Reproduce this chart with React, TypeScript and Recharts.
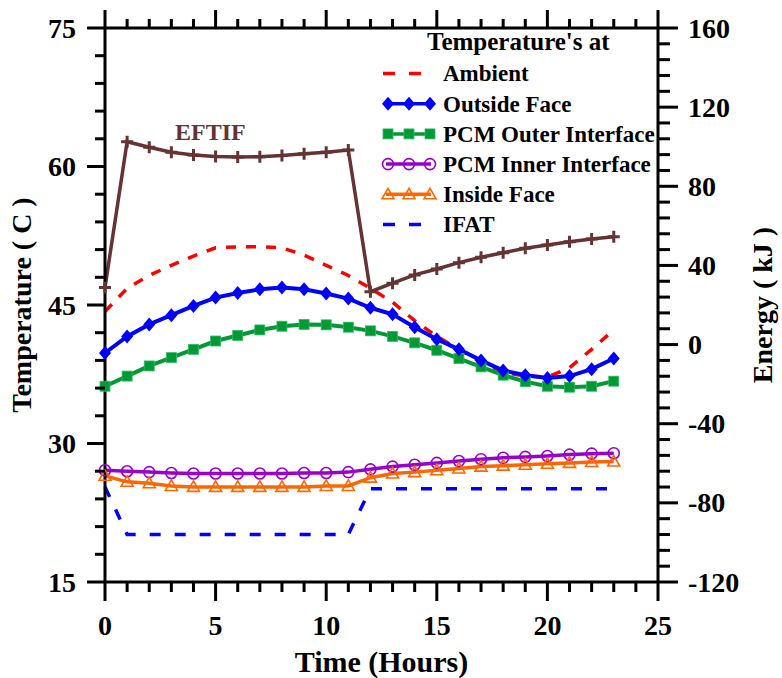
import { ComposedChart, Line, XAxis, YAxis } from 'recharts'

const FONT = "'Liberation Serif', 'Times New Roman', serif"

// hourly readings
const hours = [0, 1, 2, 3, 4, 5, 6, 7, 8, 9, 10, 11, 12, 13, 14, 15, 16, 17, 18, 19, 20, 21, 22, 23]
const ambient = [44.3, 46.8, 48.2, 49.3, 50.3, 51.2, 51.3, 51.3, 51.2, 50.4, 49.3, 48.2, 46.8, 45.3, 43.3, 41.6, 40.2, 38.8, 37.7, 37.3, 37.2, 38.2, 40.2, 42.3]
const outsideFace = [39.8, 41.6, 42.9, 43.9, 44.9, 45.8, 46.3, 46.7, 46.9, 46.7, 46.25, 45.7, 44.7, 44.0, 42.6, 41.3, 40.2, 39.0, 37.9, 37.4, 37.1, 37.3, 38.05, 39.2]
const pcmOuter = [36.2, 37.3, 38.4, 39.3, 40.2, 41.1, 41.7, 42.3, 42.7, 42.9, 42.85, 42.6, 42.2, 41.6, 40.9, 40.1, 39.2, 38.3, 37.4, 36.7, 36.2, 36.1, 36.2, 36.75]
const pcmInner = [27.1, 27.0, 26.9, 26.8, 26.75, 26.75, 26.75, 26.75, 26.75, 26.8, 26.8, 26.9, 27.2, 27.5, 27.7, 27.9, 28.1, 28.3, 28.45, 28.55, 28.65, 28.8, 28.9, 28.95]
const insideFace = [26.5, 25.85, 25.7, 25.4, 25.3, 25.3, 25.3, 25.3, 25.3, 25.3, 25.4, 25.4, 26.3, 26.75, 26.9, 27.1, 27.3, 27.5, 27.6, 27.7, 27.8, 27.9, 28.0, 28.05]
const ifat = [25.3, 20.15, 20.15, 20.15, 20.15, 20.15, 20.15, 20.15, 20.15, 20.15, 20.15, 20.15, 25.1, 25.1, 25.1, 25.1, 25.1, 25.1, 25.1, 25.1, 25.1, 25.1, 25.1, 25.1]
const eftif = [28.9, 102.5, 99.7, 97.2, 95.8, 95.1, 94.8, 94.9, 95.5, 96.5, 97.2, 98.3, 26.7, 31.0, 35.2, 38.2, 41.4, 44.1, 46.4, 48.7, 50.3, 52.0, 53.4, 54.5]

const timeTicks = Array.from({ length: 26 }, (_, i) => i)
const tempTicks = Array.from({ length: 21 }, (_, i) => 15 + i * 3)
const energyTicks = Array.from({ length: 36 }, (_, i) => -120 + i * 8)

const legendItems = [
  { name: 'Ambient', color: '#ff0000', kind: 'dash' },
  { name: 'Outside Face', color: '#0000ff', kind: 'diamond' },
  { name: 'PCM Outer Interface', color: '#009933', kind: 'square' },
  { name: 'PCM Inner Interface', color: '#9900cc', kind: 'circle' },
  { name: 'Inside Face', color: '#ff6600', kind: 'triangle' },
  { name: 'IFAT', color: '#0000ff', kind: 'dash' },
]

const data = hours.map((h, i) => ({
  hour: h,
  ambient: ambient[i],
  outside: outsideFace[i],
  pcmOuter: pcmOuter[i],
  pcmInner: pcmInner[i],
  inside: insideFace[i],
  ifat: ifat[i],
  eftif: eftif[i],
}))

function marker(kind: string, color: string, cx: number, cy: number, key?: string) {
  if (kind === 'diamond')
    return <path key={key} d={`M${cx},${cy - 7}L${cx + 6},${cy}L${cx},${cy + 7}L${cx - 6},${cy}Z`} fill={color} />
  if (kind === 'square')
    return <rect key={key} x={cx - 5} y={cy - 5} width={10} height={10} fill={color} stroke="#33bb66" strokeWidth={0.8} />
  if (kind === 'circle')
    return <circle key={key} cx={cx} cy={cy} r={5.5} fill="none" stroke={color} strokeWidth={1.6} />
  if (kind === 'triangle')
    return <path key={key} d={`M${cx},${cy - 6}L${cx + 6},${cy + 4.5}L${cx - 6},${cy + 4.5}Z`} fill="none" stroke={color} strokeWidth={1.6} />
  if (kind === 'plus')
    return (
      <path key={key} d={`M${cx - 6},${cy}H${cx + 6}M${cx},${cy - 6}V${cy + 6}`} stroke={color} strokeWidth={3} fill="none" />
    )
  return <g key={key} />
}

const dotOf = (kind: string, color: string) => (p: any) =>
  marker(kind, color, p.cx, p.cy, `${kind}-${p.index}`)

// tick marks as thin filled bars, labels on the long ones
function LeftTick(props: any) {
  const { x, y, payload } = props
  const major = payload.value % 15 === 0
  const len = major ? 18 : 10
  return (
    <g>
      <rect x={x - len} y={y - 1.5} width={len} height={3} fill="#000" />
      <text x={x - 29} y={y} dy="0.34em" textAnchor="end" fontFamily={FONT} fontWeight={700} fontSize={28} fill="#000">
        {major ? payload.value : ''}
      </text>
    </g>
  )
}

function RightTick(props: any) {
  const { x, y, payload } = props
  const major = (payload.value + 120) % 40 === 0
  const len = major ? 20 : 12
  return (
    <g>
      <rect x={x} y={y - 1.5} width={len} height={3} fill="#000" />
      <text x={x + 30} y={y} dy="0.34em" textAnchor="start" fontFamily={FONT} fontWeight={700} fontSize={28} fill="#000">
        {major ? payload.value : ''}
      </text>
    </g>
  )
}

function BottomTick(props: any) {
  const { x, y, payload } = props
  const major = payload.value % 5 === 0
  const len = major ? 19 : 10
  return (
    <g>
      <rect x={x - 1.5} y={y} width={3} height={len} fill="#000" />
      <text x={x} y={y + 53} textAnchor="middle" fontFamily={FONT} fontWeight={700} fontSize={28} fill="#000">
        {major ? payload.value : ''}
      </text>
    </g>
  )
}

function TopTick(props: any) {
  const { x, y, payload } = props
  const len = payload.value % 5 === 0 ? 18 : 9
  return (
    <g>
      <rect x={x - 1.5} y={y - len} width={3} height={len} fill="#000" />
      <text x={x} y={y - 2} fontSize={1} fill="#fff">{' '}</text>
    </g>
  )
}

function Annotations() {
  return (
    <g fontFamily={FONT} fontWeight={700} fill="#000">
      <text x={381.5} y={672} textAnchor="middle" fontSize={30}>Time (Hours)</text>
      <text transform="translate(31,305) rotate(-90)" textAnchor="middle" fontSize={28}>Temperature ( C )</text>
      <text transform="translate(772,305) rotate(-90)" textAnchor="middle" fontSize={28}>Energy ( kJ )</text>
      <text x={175} y={140} fontSize={24} fill="#663333">EFTIF</text>
      <text x={427} y={50} fontSize={25}>Temperature's at</text>
      {legendItems.map((it, i) => {
        const cy = 73.5 + i * 30.2
        return (
          <g key={it.name}>
            {it.kind === 'dash' ? (
              <line x1={383} y1={cy} x2={421} y2={cy} stroke={it.color} strokeWidth={3.5} strokeDasharray="12 14" />
            ) : (
              <g>
                <line x1={386} y1={cy} x2={431} y2={cy} stroke={it.color} strokeWidth={3.5} />
                {[388, 409, 430].map((mx) => marker(it.kind, it.color, mx, cy, `${it.name}-${mx}`))}
              </g>
            )}
            <text x={443} y={cy + 7.8} fontSize={23}>{it.name}</text>
          </g>
        )
      })}
    </g>
  )
}

export default function App() {
  const axisLine = { stroke: '#000', strokeWidth: 3 }
  return (
    <div style={{ position: 'absolute', left: 0, top: 0, width: 782, height: 678, background: '#fff' }}>
      <ComposedChart width={782} height={678} data={data} margin={{ top: 8, right: 24, bottom: 0, left: 5 }}>
        <XAxis xAxisId="b" dataKey="hour" type="number" domain={[0, 25]} ticks={timeTicks} interval={0} height={96}
          tickSize={0} tickMargin={0} tickLine={false} axisLine={axisLine} tick={<BottomTick />} />
        <XAxis xAxisId="t" orientation="top" dataKey="hour" type="number" domain={[0, 25]} ticks={timeTicks} interval={0} height={20}
          tickSize={0} tickMargin={0} tickLine={false} axisLine={axisLine} tick={<TopTick />} />
        <YAxis yAxisId="temp" type="number" domain={[15, 75]} ticks={tempTicks} interval={0} width={100}
          tickSize={0} tickMargin={0} tickLine={false} axisLine={axisLine} tick={<LeftTick />} />
        <YAxis yAxisId="energy" orientation="right" type="number" domain={[-120, 160]} ticks={energyTicks} interval={0} width={100}
          tickSize={0} tickMargin={0} tickLine={false} axisLine={axisLine} tick={<RightTick />} />
        <Line xAxisId="b" yAxisId="energy" dataKey="eftif" stroke="#663333" strokeWidth={3.5} dot={dotOf('plus', '#663333')} isAnimationActive={false} />
        <Line xAxisId="b" yAxisId="temp" dataKey="ambient" stroke="#ff0000" strokeWidth={3.5} strokeDasharray="10 10" dot={false} isAnimationActive={false} />
        <Line xAxisId="b" yAxisId="temp" dataKey="pcmOuter" stroke="#009933" strokeWidth={4} dot={dotOf('square', '#009933')} isAnimationActive={false} />
        <Line xAxisId="b" yAxisId="temp" dataKey="outside" stroke="#0000ff" strokeWidth={4} dot={dotOf('diamond', '#0000ff')} isAnimationActive={false} />
        <Line xAxisId="b" yAxisId="temp" dataKey="pcmInner" stroke="#9900cc" strokeWidth={3.5} dot={dotOf('circle', '#9900cc')} isAnimationActive={false} />
        <Line xAxisId="b" yAxisId="temp" dataKey="inside" stroke="#ff6600" strokeWidth={3.5} dot={dotOf('triangle', '#ff6600')} isAnimationActive={false} />
        <Line xAxisId="b" yAxisId="temp" dataKey="ifat" stroke="#0000ff" strokeWidth={3.5} strokeDasharray="11 14" dot={false} isAnimationActive={false} />
        <Annotations />
      </ComposedChart>
    </div>
  )
}
